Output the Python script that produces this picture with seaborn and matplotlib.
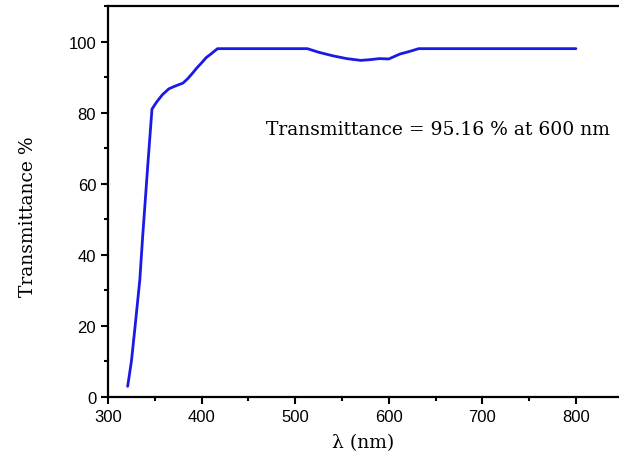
import seaborn as sns
import pandas as pd
import matplotlib.pyplot as plt
from matplotlib.ticker import MultipleLocator

sns.set_style("ticks")

# transmittance spectrum
wavelength = [321, 325, 329, 334, 337, 343, 347, 352, 358, 365, 372, 380, 385, 390,
              395, 400, 405, 410, 417, 450, 500, 513, 525, 540, 555, 570, 580,
              590, 600, 612, 622, 632, 700, 750, 800]
transmittance = [3, 10, 20, 33, 45, 67, 81, 83, 85, 86.7, 87.5, 88.3, 89.5, 91,
                 92.6, 94, 95.5, 96.5, 98, 98, 98, 98, 97, 96, 95.2, 94.7, 94.9,
                 95.2, 95.1, 96.5, 97.2, 98, 98, 98, 98]
note = "Transmittance = 95.16 % at 600 nm"

df = pd.DataFrame({"wl": wavelength, "T": transmittance})

fig = plt.figure(figsize=(6.19, 4.64), dpi=100)
ax = fig.add_axes([108 / 619, 1 - 398 / 464, 1 - 108 / 619, (398 - 7) / 464])

sns.lineplot(data=df, x="wl", y="T", ax=ax, color="#1a1ae6", linewidth=2)

ax.set_xlim(300, 846)
ax.set_ylim(0, 110)
ax.xaxis.set_major_locator(MultipleLocator(100))
ax.xaxis.set_minor_locator(MultipleLocator(50))
ax.set_yticks(range(0, 101, 20))
ax.yaxis.set_minor_locator(MultipleLocator(10))
ax.tick_params(which="major", length=5, width=1.5, labelsize=12, direction="out",
               color="black", labelcolor="black")
ax.tick_params(which="minor", length=3, width=1.5, direction="out", color="black")
for lab in ax.get_xticklabels() + ax.get_yticklabels():
    lab.set_family("Liberation Sans")

for s in ["left", "bottom", "top"]:
    ax.spines[s].set_linewidth(1.6)
    ax.spines[s].set_color("black")
ax.spines["right"].set_visible(False)

ax.set_xlabel("λ (nm)", family="DejaVu Serif", fontsize=13.5, labelpad=7, color="black")
ax.set_ylabel("Transmittance %", family="DejaVu Serif", fontsize=13.5, color="black")
ax.yaxis.set_label_coords(-0.138, 0.463)

ax.text(653, 75.5, note, family="DejaVu Serif", fontsize=13.5, ha="center", va="center",
        color="black")

fig.savefig("out.png", dpi=100)
